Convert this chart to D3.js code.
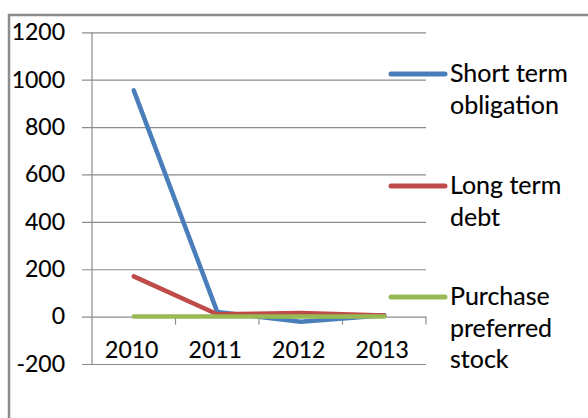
<!DOCTYPE html>
<html>
<head>
<meta charset="utf-8">
<script src="https://cdn.jsdelivr.net/npm/d3@7/dist/d3.min.js"></script>
<style>
  html, body { margin: 0; padding: 0; background: #fff; }
  svg text { font-family: Lato, "Open Sans", sans-serif; fill: #000; stroke: #000; stroke-width: 0.15px; }
</style>
</head>
<body>
<svg id="chart" width="588" height="418"></svg>
<script>
// Financing items by year
const years = ["2010", "2011", "2012", "2013"];
const shortTermObligation = [955, 20, -22, 6];
const longTermDebt = [170, 10, 15, 5];
const purchasePreferredStock = [0, 0, 0, 0];
const yTicks = [-200, 0, 200, 400, 600, 800, 1000, 1200];

const seriesNames = [["Short term", "obligation"], ["Long term", "debt"], ["Purchase", "preferred", "stock"]];
const seriesValues = [shortTermObligation, longTermDebt, purchasePreferredStock];
const seriesColors = ["#4a7ebb", "#be4b48", "#98b954"];

const svg = d3.select("#chart");

// outer chart frame
svg.append("rect")
  .attr("x", 9).attr("y", 15)
  .attr("width", 620).attr("height", 430)
  .attr("fill", "none").attr("stroke", "#8c8c8c").attr("stroke-width", 2.5);

const plot = { left: 92, right: 426, top: 32.3, bottom: 364 };

const x = d3.scaleBand().domain(years).range([plot.left, plot.right]);
const y = d3.scaleLinear().domain([-200, 1200]).range([plot.bottom, plot.top]);

// horizontal gridlines with short ticks to the left
const yAxis = d3.axisLeft(y)
  .tickValues(yTicks)
  .tickFormat(d => String(d))
  .tickSize(-(plot.right - plot.left));
const gy = svg.append("g").attr("transform", `translate(${plot.left},0)`).call(yAxis);
gy.select(".domain").remove();
gy.selectAll(".tick line").attr("stroke", "#8c8c8c").attr("stroke-width", 1.2).attr("x1", -10);
gy.selectAll(".tick text").attr("font-size", 23).attr("fill", "#000").attr("x", -27)
  .attr("font-family", "Lato, 'Open Sans', sans-serif");

// vertical axis line
svg.append("line")
  .attr("x1", plot.left).attr("x2", plot.left)
  .attr("y1", plot.top).attr("y2", plot.bottom)
  .attr("stroke", "#8c8c8c").attr("stroke-width", 1.2);

// category axis along zero, ticks between categories
const y0 = y(0);
const tickXs = years.map(d => x(d) + x.bandwidth());
svg.append("g").selectAll("line").data(tickXs).join("line")
  .attr("x1", d => d).attr("x2", d => d)
  .attr("y1", y0).attr("y2", y0 + 8)
  .attr("stroke", "#8c8c8c").attr("stroke-width", 1.2);

svg.append("g").selectAll("text").data(years).join("text")
  .attr("x", d => x(d) + x.bandwidth() / 2 - 2)
  .attr("y", 358)
  .attr("text-anchor", "middle")
  .attr("font-size", 23)
  .text(d => d);

// series lines
const line = d3.line()
  .x((d, i) => x(years[i]) + x.bandwidth() / 2)
  .y(d => y(d));

seriesValues.forEach((vals, k) => {
  svg.append("path")
    .datum(vals)
    .attr("d", line)
    .attr("fill", "none")
    .attr("stroke", seriesColors[k])
    .attr("stroke-width", 4.5)
    .attr("stroke-linecap", "round")
    .attr("stroke-linejoin", "round");
});

// legend
const legendY = [74, 186, 297];
const lg = svg.append("g");
seriesNames.forEach((lines, k) => {
  const g = lg.append("g").attr("transform", `translate(0,${legendY[k]})`);
  g.append("line")
    .attr("x1", 391).attr("x2", 445)
    .attr("stroke", seriesColors[k]).attr("stroke-width", 5)
    .attr("stroke-linecap", "round");
  lines.forEach((t, j) => {
    g.append("text")
      .attr("x", 450)
      .attr("y", 8 + j * 31.5)
      .attr("font-size", 25)
      .text(t);
  });
});
</script>
</body>
</html>
